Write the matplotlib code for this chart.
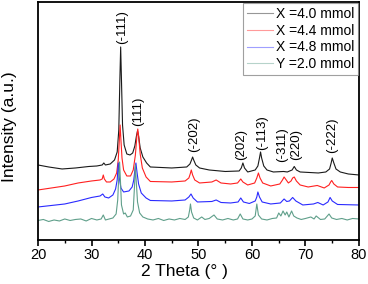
import matplotlib
matplotlib.use("Agg")
import matplotlib.pyplot as plt
from matplotlib.ticker import MultipleLocator

plt.rcParams["font.family"] = ["Liberation Sans", "DejaVu Sans"]

# 2 theta / intensity (a.u.), one pair of lists per sample
x_40 = [20, 22, 24.5, 27, 29.5, 31, 32.0, 32.3, 32.6, 33.5, 34.3, 34.8, 35.1, 35.3, 35.45,
        35.6, 35.8, 36.1, 36.6, 37.2, 37.7, 38.1, 38.4, 38.6, 38.8, 39.1, 39.6, 40.3, 41,
        45, 47.8, 48.4, 48.7, 48.9, 49.1, 49.5, 50.2, 52, 55, 57.6, 58.0, 58.3, 58.6, 59.2,
        60.6, 61.1, 61.4, 61.6, 61.8, 62.2, 62.8, 64, 65.9, 66.6, 67.5, 67.9, 68.3, 69,
        72.4, 73.8, 74.5, 74.8, 75.0, 75.3, 75.7, 76.5, 78, 80]
y_40 = [75, 73, 71, 72, 73.5, 74, 75, 77, 75, 76, 80, 88, 110, 160, 193,
        160, 115, 95, 86, 85, 87, 94, 104, 109, 104, 92, 83, 77, 73,
        72, 73, 76, 80, 83, 80, 75, 72, 70, 68.5, 69, 72, 77, 72, 68,
        70, 74, 82, 88, 82, 74, 70, 68, 68.5, 68, 70, 73.5, 70, 68,
        67, 68, 71, 77, 82, 77, 71, 68, 66, 65]

x_44 = [20, 22.5, 25, 27.5, 30, 31.6, 32.0, 32.2, 32.4, 32.8, 33.5, 34.2, 34.7, 35.0, 35.2,
        35.35, 35.5, 35.7, 36.0, 36.6, 37.3, 37.8, 38.2, 38.5, 38.65, 38.8, 39.1, 39.5,
        40.2, 41, 45, 47.5, 48.2, 48.45, 48.65, 48.9, 49.3, 50.2, 52.5, 53.3, 54.2, 56,
        57.3, 57.6, 57.9, 58.3, 59.2, 60.5, 60.9, 61.2, 61.5, 62, 63.5, 65.2, 65.7, 66.0,
        66.4, 66.8, 67.3, 67.6, 67.9, 68.3, 69.0, 70.5, 72.2, 73.5, 74.4, 74.7, 74.9, 75.3,
        76, 78, 80]
y_44 = [50, 52, 54, 57, 59, 60, 61, 65, 61, 58, 58, 61, 67, 80, 100,
        115, 100, 82, 70, 64, 64, 70, 85, 105, 111, 104, 86, 72,
        63, 58.5, 58, 59, 62, 66, 70, 65, 60, 57, 58, 60, 57, 56,
        57, 59, 61, 58, 55, 57, 62, 67, 62, 57, 54, 56, 60, 63,
        60, 57, 59, 62, 63, 59, 55, 53, 54.5, 52, 55, 58, 59.5, 56,
        53, 52.5, 52.5]

x_48 = [20, 22.5, 25, 27.5, 30, 31.6, 32.1, 32.5, 33.2, 34.0, 34.5, 34.8, 35.0, 35.2, 35.5,
        36.0, 37.0, 37.6, 37.9, 38.15, 38.3, 38.5, 38.8, 39.3, 40.2, 41, 45, 47.5, 48.2,
        48.6, 49.0, 49.8, 52.5, 53.3, 54.2, 56, 57.4, 57.9, 58.4, 59.5, 60.6, 60.9, 61.1,
        61.4, 61.9, 63.5, 65.3, 66.0, 66.5, 67.0, 67.6, 68.2, 69.5, 71.5, 72.3, 73.3, 74.2,
        74.6, 75.0, 76, 80]
y_48 = [33, 34.5, 36, 39, 42.5, 44, 46, 43, 42, 45, 51, 60, 77, 62, 52,
        48, 49, 53, 60, 72, 77, 68, 56, 47, 42, 39.5, 39, 40, 43,
        46, 42, 38, 38.5, 40, 37.5, 37, 38, 42, 38, 36.5, 39, 43, 48,
        43, 38, 36, 37, 41, 38.5, 39, 42.5, 39, 35, 36, 37.5, 35, 38,
        42.5, 39, 35.5, 35]

x_y20 = [20, 21, 22, 23, 24, 25, 26, 27, 28, 29, 30, 31, 31.8, 32.2, 32.6, 33.3, 34, 34.6,
         34.9, 35.1, 35.25, 35.4, 35.6, 36.0, 36.3, 36.7, 37.3, 37.8, 38.05, 38.2, 38.35,
         38.6, 39.0, 39.6, 40.5, 41.5, 42.5, 43.5, 44.5, 45.5, 46.5, 47.5, 48.1, 48.35,
         48.5, 48.7, 49.1, 49.8, 50.6, 51.2, 52, 52.9, 53.5, 54.5, 55.5, 56.5, 57.3, 57.8,
         58.3, 59.2, 60.0, 60.6, 60.9, 61.2, 61.8, 62.8, 63.8, 64.6, 65.0, 65.4, 65.8, 66.2,
         66.5, 66.9, 67.4, 67.8, 68.4, 69.2, 70, 71, 71.6, 72.0, 72.8, 73.6, 74.4, 74.9,
         75.8, 76.8, 77.8, 78.8, 80]
y_y20 = [19.5, 20.5, 18.5, 20, 19, 21, 19.5, 20.5, 21, 19, 21.5, 20, 21, 25, 20, 21, 22, 26,
         40, 65, 78, 60, 35, 26, 27, 23, 24, 30, 55, 75, 60,
         38, 27, 23, 21, 20, 21.5, 19.5, 21, 20, 21.5, 20.5, 23, 30,
         36, 28, 22, 20, 23, 20.5, 21.5, 25, 21, 20, 21.5, 20, 21, 26,
         21, 20, 21, 24, 36, 25, 21, 20, 21.5, 22, 27, 24, 29, 25,
         28, 23, 29, 24, 22, 20.5, 21.5, 23, 21, 24, 20.5, 21, 26, 22,
         20.5, 21.5, 20, 21.5, 21]

series_labels = ["X =4.0 mmol", "X =4.4 mmol", "X =4.8 mmol", "Y =2.0 mmol"]
series_colors = ["#1a1a1a", "#ff2020", "#2a2aff", "#5f9f8a"]

peak_labels = ["(-111)", "(111)", "(-202)", "(202)", "(-113)", "(-311)", "(220)", "(-222)"]
peak_pos = [35.8, 38.7, 49.2, 57.9, 61.9, 65.7, 68.2, 74.9]
peak_label_y = [196, 114, 88, 80, 90, 78, 80, 87]

fig = plt.figure(figsize=(3.68, 2.84), dpi=100)
ax = fig.add_axes([0.1033, 0.155, 0.8722, 0.838])

curves = [(x_40, y_40), (x_44, y_44), (x_48, y_48), (x_y20, y_y20)]
for (xs, ys), lab, col in zip(curves, series_labels, series_colors):
    ax.plot(xs, ys, color=col, lw=0.8, label=lab)

for lab, px, py in zip(peak_labels, peak_pos, peak_label_y):
    ax.text(px, py, lab, rotation=90, ha="center", va="bottom", fontsize=9.5)

ax.set_xlim(20, 80)
ax.set_ylim(0, 238)
ax.set_yticks([])
ax.xaxis.set_major_locator(MultipleLocator(10))
ax.xaxis.set_minor_locator(MultipleLocator(5))
ax.tick_params(axis="x", which="major", direction="out", length=4, width=1.2,
               labelsize=10.5, pad=2)
ax.tick_params(axis="x", which="minor", direction="out", length=2.5, width=1.0)
for sp in ax.spines.values():
    sp.set_linewidth(1.3)

ax.set_xlabel("2 Theta (° )", fontsize=12.5)
ax.xaxis.set_label_coords(0.455, -0.1)
ax.set_ylabel("Intensity (a.u.)", fontsize=12.5)
ax.yaxis.set_label_coords(-0.065, 0.475)

leg = ax.legend(loc="upper right", fontsize=10, frameon=True, fancybox=False,
                edgecolor="#888888", handlelength=1.9, handletextpad=0.2,
                borderpad=0.25, labelspacing=0.2, borderaxespad=0.1)
leg.get_frame().set_linewidth(0.8)
for line in leg.get_lines():
    line.set_alpha(0.45)

fig.savefig("out.png", dpi=100)
